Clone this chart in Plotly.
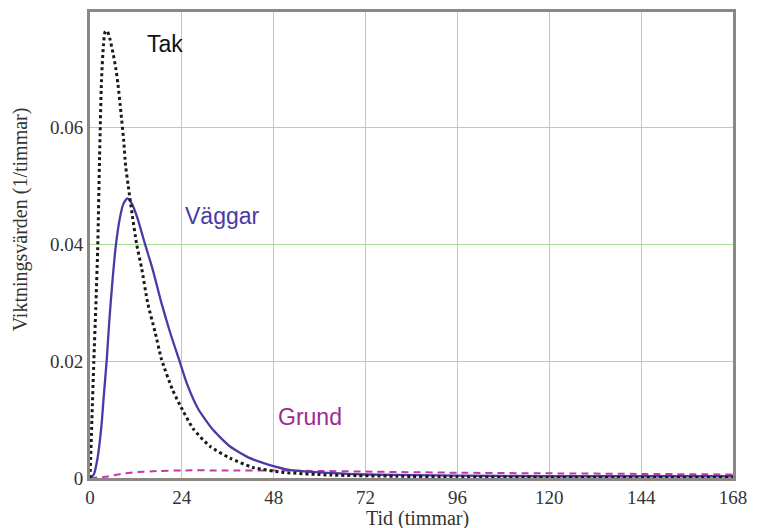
import plotly.graph_objects as go

# Tak (roof) – dotted black
tak_t = [0, 0.5, 1.0, 1.5, 2.0, 2.5, 3.0, 3.5, 4.0, 4.5, 5.2, 6.0, 6.7, 7.3, 8.1, 8.8, 9.3, 10, 11, 12.2,
         13.5, 15.1, 17, 18.7, 21.5, 23.5, 27, 31.4, 36.6, 42.6, 50, 63, 80, 96, 120, 168]
tak_v = [0, 0.010, 0.020, 0.029, 0.039, 0.055, 0.068, 0.074, 0.0765, 0.0765, 0.0752, 0.0728, 0.0703, 0.0675,
         0.0625, 0.0578, 0.0535, 0.0500, 0.0452, 0.0400, 0.0359, 0.0299, 0.0250, 0.0203, 0.0152, 0.0125,
         0.0084, 0.0054, 0.0034, 0.0018, 0.0010, 0.0005, 0.0003, 0.0002, 0.0001, 0.0001]

# Väggar (walls) – solid blue/purple
vagg_t = [0, 1, 2, 3, 3.5, 4.4, 5.0, 5.8, 6.7, 7.8, 8.7, 9.75, 11, 12.4, 14.4, 16.3, 18.7, 20.9,
          23.5, 25.3, 28.2, 32.2, 36.6, 41.8, 47, 52, 59, 72, 96, 120, 144, 168]
vagg_v = [0, 0.0006, 0.0035, 0.009, 0.0132, 0.0205, 0.0265, 0.0332, 0.0395, 0.0445, 0.0469, 0.0479,
          0.0469, 0.0445, 0.0400, 0.0359, 0.0299, 0.0250, 0.0198, 0.0162, 0.0119, 0.0082,
          0.0054, 0.0034, 0.0022, 0.0014, 0.0010, 0.0006, 0.0004, 0.0003, 0.0003, 0.0003]

# Grund (foundation) – dashed magenta
grund_t = [0, 4, 8, 12, 18, 24, 36, 48, 60, 72, 96, 120, 144, 168]
grund_v = [0, 0.0002, 0.0007, 0.0010, 0.0012, 0.0013, 0.0013, 0.0013, 0.0012, 0.0011, 0.0009, 0.0008,
           0.0007, 0.0006]

x_ticks = [0, 24, 48, 72, 96, 120, 144, 168]
y_ticks = [0, 0.02, 0.04, 0.06]
y_ticktext = ["0", "0.02", "0.04", "0.06"]

labels = ["Tak", "Väggar", "Grund"]
label_x = [19.5, 34.5, 57.5]
label_y = [0.0743, 0.0448, 0.0105]

c_tak = "#1a1a1a"
c_vagg = "#4a3aa6"
c_grund = "#c03aa8"
serif = "Liberation Serif, Times New Roman, serif"
sans = "Liberation Sans, Arial, sans-serif"

fig = go.Figure()
fig.add_trace(go.Scatter(x=grund_t, y=grund_v, mode="lines",
                         line=dict(color=c_grund, width=2, dash="7px,5px", shape="spline", smoothing=0.6)))
fig.add_trace(go.Scatter(x=vagg_t, y=vagg_v, mode="lines",
                         line=dict(color=c_vagg, width=2.3, shape="spline", smoothing=0.6)))
fig.add_trace(go.Scatter(x=tak_t, y=tak_v, mode="lines",
                         line=dict(color=c_tak, width=3, dash="dot", shape="spline", smoothing=0.6)))

label_colors = ["#111111", "#4a3aa6", "#9b2a90"]
for txt, lx, ly, col in zip(labels, label_x, label_y, label_colors):
    fig.add_annotation(x=lx, y=ly, text=txt, showarrow=False,
                       font=dict(family=sans, size=23, color=col))

# axis titles
fig.add_annotation(xref="paper", yref="paper", x=0.509, y=0, yanchor="middle", yshift=-40,
                   text="Tid (timmar)", showarrow=False,
                   font=dict(family=serif, size=20, color="#333333"))
fig.add_annotation(xref="paper", yref="paper", x=0, y=0.555, xanchor="center", xshift=-70,
                   text="Viktningsvärden (1/timmar)", textangle=-90, showarrow=False,
                   font=dict(family=serif, size=20, color="#333333"))

axis_common = dict(showline=True, linecolor="#8c8782", linewidth=3, mirror=True,
                   showgrid=True, gridcolor="#a8dc92", gridwidth=1.3, zeroline=False,
                   automargin=False, ticks="",
                   tickfont=dict(family=serif, size=19, color="#333333"))

fig.update_xaxes(range=[0, 168], tickvals=x_ticks, ticktext=[str(v) for v in x_ticks], **axis_common)
fig.update_yaxes(range=[0, 0.0798], tickvals=y_ticks, ticktext=y_ticktext, **axis_common)

fig.update_layout(width=757, height=520, showlegend=False,
                  margin=dict(l=82, r=32, t=4, b=50),
                  paper_bgcolor="white", plot_bgcolor="white")

fig.write_html("out.html")
